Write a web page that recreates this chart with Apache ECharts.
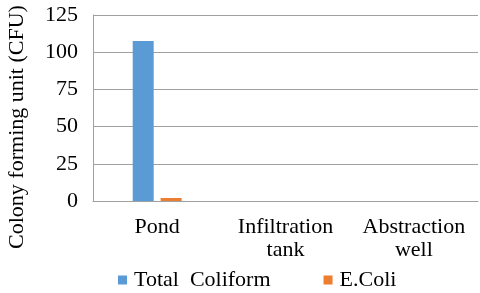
<!DOCTYPE html>
<html>
<head>
<meta charset="utf-8">
<script src="https://cdn.jsdelivr.net/npm/echarts@6/dist/echarts.min.js"></script>
<style>html,body{margin:0;padding:0;background:#fff}#c{width:480px;height:293px}</style>
</head>
<body>
<div id="c"></div>
<script>
const categories = ['Pond', 'Infiltration\ntank', 'Abstraction\nwell'];
const totalColiform = [107.5, 0, 0];
const eColi = [2, 0, 0];
const seriesNames = ['Total  Coliform', 'E.Coli'];
const yAxisTitle = 'Colony forming unit (CFU)';
const yTicks = {min: 0, max: 125, interval: 25};

const font = '"Liberation Serif", "Times New Roman", serif';
const chart = echarts.init(document.getElementById('c'), null, {renderer: 'canvas'});
chart.setOption({
  animation: false,
  textStyle: {fontFamily: font, color: '#000'},
  grid: {left: 93, right: 2, top: 15, bottom: 92},
  graphic: [{
    type: 'text', x: 17, y: 127, rotation: Math.PI / 2,
    style: {text: yAxisTitle, font: '22px "Liberation Serif", serif', fill: '#000',
            align: 'center', verticalAlign: 'middle'}
  }],
  legend: {
    left: 113, top: 264,
    itemWidth: 9, itemHeight: 9, itemGap: 53,
    icon: 'rect',
    textStyle: {fontFamily: font, fontSize: 22, color: '#000', padding: [0,0,0,2]},
    data: seriesNames
  },
  xAxis: {
    type: 'category',
    data: categories,
    axisLine: {show: true, lineStyle: {color: '#a0a0a0', width: 1}},
    axisTick: {show: false},
    axisLabel: {fontFamily: font, fontSize: 22, color: '#000', margin: 15, lineHeight: 23, interval: 0}
  },
  yAxis: {
    type: 'value',
    min: yTicks.min, max: yTicks.max, interval: yTicks.interval,
    axisLine: {show: true, lineStyle: {color: '#a0a0a0', width: 1}},
    axisTick: {show: false},
    splitLine: {show: true, lineStyle: {color: '#a0a0a0', width: 1}},
    axisLabel: {fontFamily: font, fontSize: 22, color: '#000', margin: 15}
  },
  series: [
    {name: seriesNames[0], type: 'bar', data: totalColiform, barWidth: 21, barGap: '33%',
     itemStyle: {color: '#5b9bd5'}},
    {name: seriesNames[1], type: 'bar', data: eColi, barWidth: 21,
     itemStyle: {color: '#ed7d31'}}
  ]
});
</script>
</body>
</html>
